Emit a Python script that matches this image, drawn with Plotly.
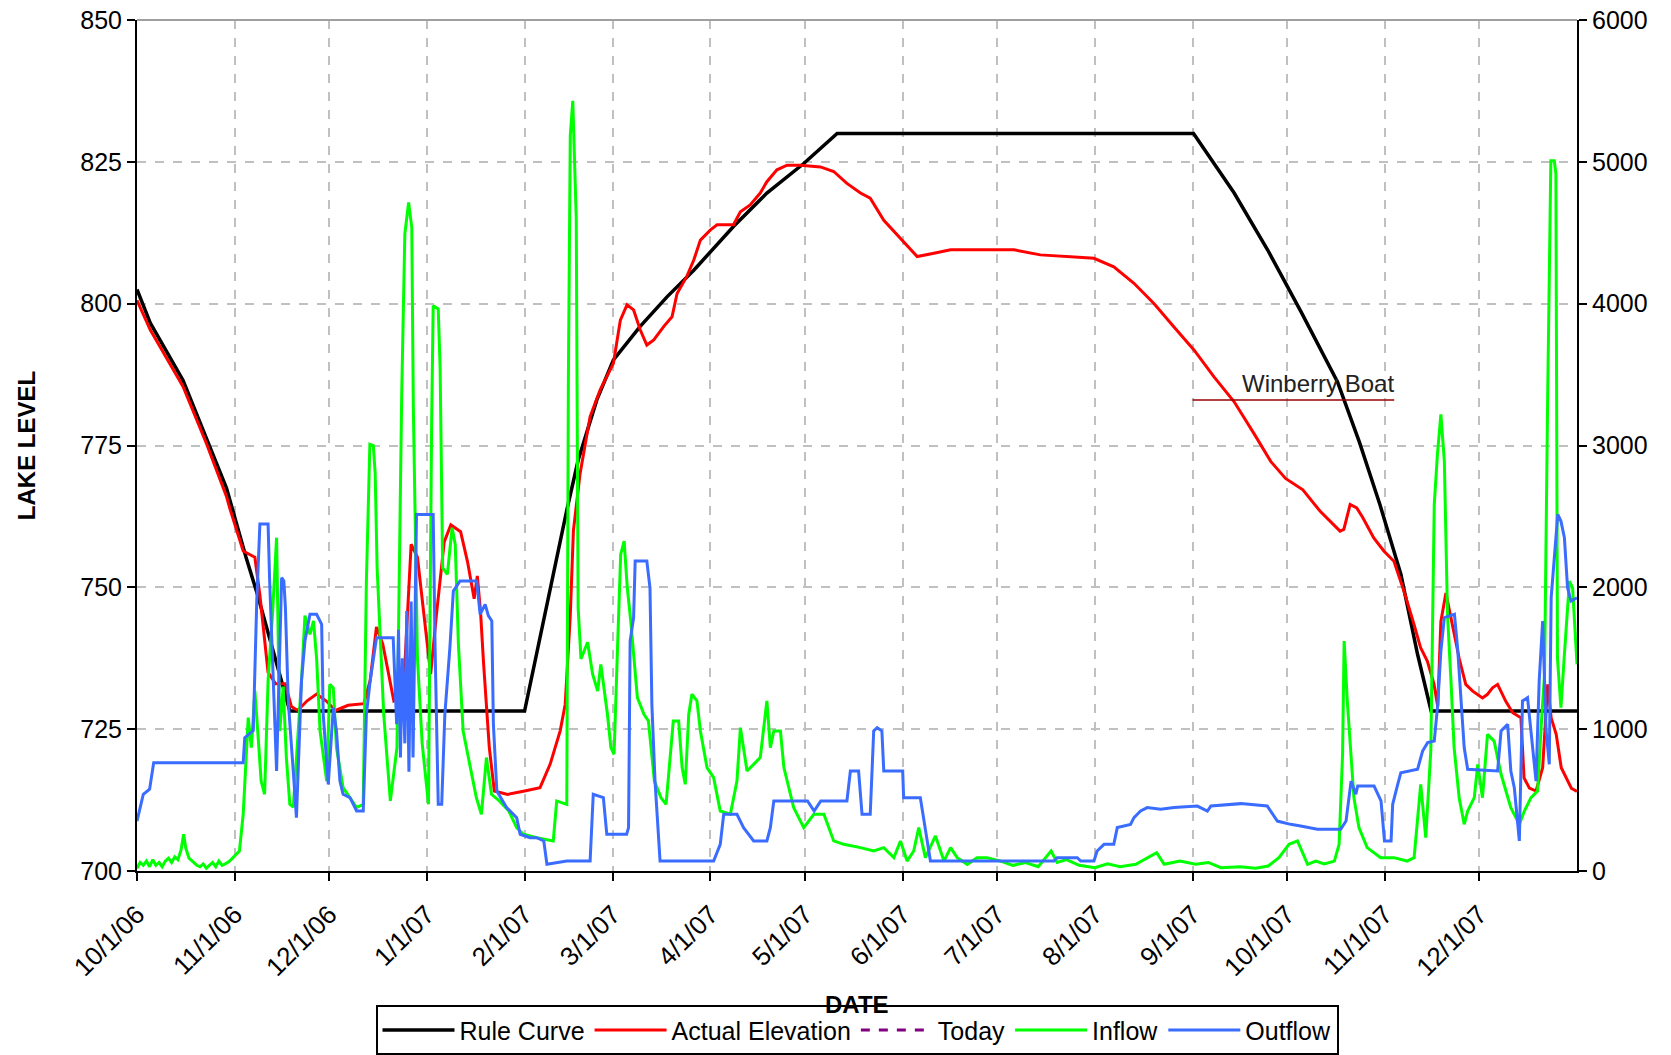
import numpy as np
import pandas as pd
import plotly.graph_objects as go

# ---------------- DATA (day offset from 10/1/06, value) ----------------
START_DATE = "2006-10-01"

RULE_CURVE = [(0, 802.5), (4.2, 796.6), (14.6, 786.5), (22, 776.5), (28.4, 767.5), (34.6, 755.3),
              (38.3, 748.6), (48.5, 728.2), (123, 728.2), (136.4, 763.6), (140, 772.4), (145.9, 783),
              (151.2, 790.1), (159.7, 796), (168.2, 801.2), (176.7, 805.9), (189.3, 813.6), (199.9, 819.5),
              (211.6, 824.7), (222.2, 830), (335.3, 830), (348.2, 819.5), (358.8, 809.5), (369.4, 798.6),
              (381, 786.2), (388, 775.5), (394.5, 764.5), (401.1, 752.3), (406.4, 738.2), (410.7, 728.2),
              (457, 728.2)]

ACTUAL_ELEVATION = [(0, 800.6), (4.2, 795.4), (14.6, 785.4), (22, 775.4), (28.4, 766), (29.4, 764), (33.7, 756.4),
                    (37.4, 755.3), (39, 748.6), (40.6, 739.8), (41.6, 735), (44, 733), (47, 733), (49, 729),
                    (51, 728.3), (54, 730), (57, 731.2), (60, 730), (63, 728.3), (67, 729.2), (72, 729.5),
                    (74, 733.6), (76, 743), (78, 740), (81.5, 730), (84.5, 731), (87, 757.6), (89, 755.3),
                    (91, 745.3), (93.2, 734.7), (95, 745), (97.5, 758), (99.6, 761), (102.7, 759.8), (104.9, 754.5),
                    (107, 748), (108, 752), (109, 745.9), (110, 736.5), (111.8, 721.8), (113.4, 714.1),
                    (117.6, 713.5), (123, 714.1), (127.9, 714.7), (131.1, 718.8), (134.3, 724.7), (135.9, 729.4),
                    (137.5, 745), (138.5, 760), (140.6, 770), (143.8, 780.1), (147, 784.8), (151.2, 789.5),
                    (153.4, 797.1), (155.5, 799.8), (157.6, 798.9), (159.7, 795.4), (161.8, 792.7), (164, 793.6),
                    (167.2, 796), (169.8, 797.7), (171.4, 801.8), (174.5, 804.8), (176.7, 807.7), (178.8, 811.2),
                    (182, 813), (184.1, 813.9), (189.3, 813.9), (191.5, 816.2), (194.6, 817.4), (197.8, 819.5),
                    (199.9, 821.5), (203.1, 823.6), (206.3, 824.4), (210.5, 824.4), (216.9, 824.1), (221.1, 823.3),
                    (225.3, 821.2), (229.6, 819.5), (232.7, 818.6), (237, 814.7), (242.3, 811.5), (247.6, 808.3),
                    (252.9, 808.9), (258.2, 809.5), (278.3, 809.5), (286.7, 808.6), (303.7, 808), (310, 806.5),
                    (316.4, 803.6), (322.8, 800), (329.1, 795.9), (335.5, 791.8), (341.8, 787.1), (348.2, 782.7),
                    (354.5, 777.1), (359.8, 772.2), (364.5, 769.2), (370, 767.2), (375.5, 763.4), (381.8, 759.9),
                    (383, 760.2), (385, 764.6), (387.1, 764), (389, 762.3), (392.5, 758.7), (395.7, 756.4),
                    (398.9, 754.6), (402.1, 749.3), (405.3, 743.4), (407.4, 739.3), (409.5, 737), (411.6, 733),
                    (412.8, 729), (413.8, 744), (415.4, 749), (417.5, 743.4), (419.6, 737.5), (421.7, 732.9),
                    (423.9, 731.7), (427, 730.5), (428.5, 731.1), (430.2, 732.3), (431.8, 732.9), (434.4, 729.9),
                    (436.6, 727.9), (439.2, 727), (440.2, 716.4), (441.9, 714.6), (444, 714.1), (446.1, 718.2),
                    (447.7, 732.9), (448.8, 727), (450.4, 724.1), (452, 718.2), (453.6, 716.4), (455.2, 714.6),
                    (457, 714)]

INFLOW = [(0, 20), (1, 60), (2, 40), (3, 70), (4, 30), (5, 80), (6, 40), (7, 60), (8, 30), (9, 70), (10, 90),
          (11, 60), (12, 100), (13, 80), (14, 150), (14.8, 260), (15.5, 160), (16.5, 90), (18, 60), (19, 40),
          (20, 30), (21, 50), (22, 20), (23, 40), (24, 60), (25, 30), (26, 70), (27, 40), (28, 50), (29.4, 70),
          (31, 110), (32.5, 140), (33.7, 400), (35.3, 1081), (36.3, 870), (37.4, 1270), (38.4, 960),
          (39.4, 634), (40.5, 541), (41.6, 1340), (43, 1810), (44.3, 2350), (45.3, 987), (46.4, 1300),
          (47.4, 800), (48.5, 470), (49.6, 450), (52.2, 1340), (53.3, 1800), (54.9, 1668), (56, 1763),
          (57, 1500), (58.1, 987), (60.2, 634), (61.2, 1316), (62.3, 1290), (63.3, 870), (65.4, 588),
          (69.7, 447), (71.8, 470), (72.8, 2044), (73.9, 3008), (75, 3000), (75.6, 2796), (76.2, 2138),
          (78.3, 1105), (80.4, 494), (82.5, 870), (84, 3350), (85, 4490), (86.2, 4713), (87.2, 4537),
          (87.7, 3267), (89, 1500), (90.5, 900), (92.5, 470), (93.5, 3150), (94, 3985), (95.6, 3963),
          (96.2, 3550), (97, 2138), (98.5, 2091), (100, 2420), (101, 2300), (102, 1600), (103.5, 987),
          (105.6, 752), (107.7, 517), (109.3, 400), (110.9, 800), (112.5, 541), (115, 494), (118, 423),
          (120.5, 306), (122.6, 259), (126.9, 235), (132.1, 212), (133.2, 494), (136.4, 470), (136.9, 3455),
          (137.5, 5183), (138.3, 5430), (139.4, 4598), (140, 1857), (140.9, 1495), (143, 1613), (144.6, 1387),
          (146.2, 1269), (147.2, 1457), (148.3, 1269), (149.3, 1105), (150.4, 870), (151.4, 823), (152.5, 1574),
          (153.5, 2232), (154.6, 2326), (155.6, 1997), (156.7, 1762), (157.7, 1495), (158.8, 1222),
          (160.9, 1105), (162.3, 1058), (164.2, 634), (166.3, 517), (167.9, 470), (169.2, 823), (170.2, 1058),
          (171.9, 1058), (173, 729), (174, 611), (175.1, 1105), (176.1, 1246), (177.7, 1199), (178.8, 987),
          (180.9, 729), (183, 658), (185.1, 423), (188.3, 400), (190.4, 634), (191.5, 1011), (193.6, 705),
          (195.7, 752), (197.8, 800), (199.9, 1199), (201, 870), (202.1, 987), (204.2, 987), (205.3, 729),
          (207.4, 541), (208.4, 447), (211.6, 306), (214.8, 400), (218, 400), (221.1, 212), (224.3, 188),
          (229.6, 165), (233.8, 141), (237, 165), (240.2, 94), (242.3, 212), (244.4, 70), (246.5, 141),
          (248.1, 306), (250.2, 94), (253.4, 247), (256.1, 70), (258.2, 165), (260.3, 94), (263.5, 47),
          (266.6, 94), (269.8, 94), (274.1, 70), (278, 40), (282, 60), (286, 30), (290.1, 141), (292, 60),
          (295, 80), (299, 40), (304, 23), (308, 50), (312, 30), (317, 47), (323.6, 129), (326, 47), (331, 70),
          (336, 47), (340, 60), (344, 23), (350, 30), (355, 20), (359, 35), (362.4, 94), (365.6, 188),
          (368.3, 212), (371.5, 47), (374.1, 70), (376.8, 50), (380, 70), (381.5, 188), (382.6, 823),
          (383.1, 1621), (384.1, 1199), (385.2, 870), (386.2, 517), (387.8, 306), (390.4, 165), (394.7, 94),
          (398.9, 94), (403.1, 70), (405.3, 94), (407.4, 611), (409, 235), (410.6, 846), (411.7, 2585),
          (412.7, 2938), (413.8, 3220), (414.9, 2890), (415.9, 1810), (417, 1340), (418, 870), (419.6, 517),
          (421.2, 329), (422.3, 423), (424.4, 517), (425.5, 752), (427, 517), (428.6, 963), (430.7, 916),
          (432.9, 682), (436, 447), (438.7, 329), (440.3, 423), (442.4, 517), (444.5, 564), (445.6, 1011),
          (446.7, 1387), (447.7, 3364), (448.7, 5007), (449.8, 5007), (450.3, 4915), (450.8, 1500),
          (451.9, 1152), (453, 1528), (454.6, 2044), (455.6, 1997), (457, 1457)]

OUTFLOW = [(0, 352), (2, 541), (4, 576), (5.3, 764), (33.7, 764), (34.2, 940), (36.9, 990), (38, 1900),
           (39, 2447), (41.6, 2447), (42.1, 2044), (44.3, 705), (45.9, 2068), (46.6, 2044), (47.1, 1857),
           (48, 1200), (49.6, 700), (50.6, 376), (52.2, 1340), (53.3, 1622), (54.9, 1810), (57, 1810),
           (58.6, 1739), (59.1, 1105), (60.7, 611), (62.3, 1152), (63.3, 987), (64.4, 634), (65.4, 541),
           (67.6, 517), (69.7, 423), (71.8, 423), (72.8, 1105), (74, 1340), (76, 1645), (81.3, 1645),
           (82.4, 1035), (83, 1700), (83.6, 800), (84.2, 1500), (85, 900), (85.6, 1833), (86.3, 700),
           (87, 1900), (87.6, 800), (88.2, 1650), (88.7, 2514), (94, 2514), (94.6, 1575), (95.6, 470),
           (96.7, 470), (97.7, 1105), (99.3, 1575), (100.4, 1974), (102.5, 2044), (107.8, 2044),
           (108.9, 1810), (110.5, 1880), (111.5, 1800), (112.6, 1763), (113.1, 1035), (114.2, 564),
           (117.3, 447), (120.5, 376), (121.6, 259), (124.7, 235), (126.9, 235), (129.1, 212), (130.1, 47),
           (136.4, 70), (143.8, 70), (144.8, 541), (148, 517), (149.1, 259), (155.4, 259), (156, 306),
           (156.5, 1621), (157.6, 1786), (158.1, 2185), (161.8, 2185), (162.8, 1997), (163.4, 1175),
           (164.4, 634), (166, 70), (183, 70), (185.1, 188), (186.2, 400), (190.4, 400), (192.5, 306),
           (195.7, 212), (199.9, 212), (201, 306), (202.1, 494), (212.8, 494), (214.9, 423), (217, 494),
           (225.3, 494), (226.4, 705), (229, 705), (230.1, 400), (232.7, 400), (233.8, 987), (234.9, 1011),
           (236.4, 987), (237, 705), (243, 705), (243.3, 517), (248.6, 517), (249.7, 352), (251.8, 70),
           (291, 70), (292, 94), (298.4, 94), (299.5, 70), (303.7, 70), (304.7, 141), (306.9, 188), (310, 188),
           (311.1, 306), (315.3, 329), (316.4, 376), (318.5, 423), (320.6, 447), (324.9, 435), (329.1, 447),
           (336.5, 458), (339.7, 423), (340.8, 458), (350.3, 475), (358.7, 458), (361.9, 352), (366.1, 329),
           (369.3, 317), (374.6, 294), (382, 294), (383.7, 352), (385.3, 634), (386.8, 541), (387.4, 599),
           (392.6, 599), (394.8, 494), (395.9, 212), (398, 212), (398.5, 470), (400.1, 611), (401.1, 693),
           (406.4, 717), (408, 846), (409.6, 905), (411.7, 916), (412.8, 1175), (413.8, 1551), (414.9, 1786),
           (418.1, 1810), (419.1, 1574), (420.2, 1222), (421.2, 870), (422.3, 717), (431.8, 705), (432.9, 987),
           (435, 1034), (436, 705), (437.1, 588), (438.7, 212), (439.7, 1199), (441.3, 1222), (442.9, 870),
           (444, 634), (445, 1340), (446.1, 1762), (447.2, 987), (448.2, 752), (448.8, 1927), (449.8, 2209),
           (450.9, 2514), (451.9, 2467), (453, 2350), (454, 1997), (455.1, 1903), (457, 1927)]

TICK_DATES = ["2006-10-01", "2006-11-01", "2006-12-01", "2007-01-01", "2007-02-01", "2007-03-01",
              "2007-04-01", "2007-05-01", "2007-06-01", "2007-07-01", "2007-08-01", "2007-09-01",
              "2007-10-01", "2007-11-01", "2007-12-01"]
TICK_LABELS = ["10/1/06", "11/1/06", "12/1/06", "1/1/07", "2/1/07", "3/1/07", "4/1/07", "5/1/07",
               "6/1/07", "7/1/07", "8/1/07", "9/1/07", "10/1/07", "11/1/07", "12/1/07"]

WINBERRY_LABEL = "Winberry Boat"
WINBERRY_LEVEL = 783
WINBERRY_START = "2007-09-01"
WINBERRY_END = "2007-11-04"

# ---------------- helpers ----------------
base = pd.Timestamp(START_DATE)


def split(pairs):
    d = np.array([p[0] for p in pairs], dtype=float)
    v = np.array([p[1] for p in pairs], dtype=float)
    return base + pd.to_timedelta(d, unit="D"), v


FONT = "Liberation Sans, Arial, sans-serif"

fig = go.Figure()
x, y = split(RULE_CURVE)
fig.add_trace(go.Scatter(x=x, y=y, name="Rule Curve", mode="lines",
                         line=dict(color="black", width=3.5)))
x, y = split(ACTUAL_ELEVATION)
fig.add_trace(go.Scatter(x=x, y=y, name="Actual Elevation", mode="lines",
                         line=dict(color="#ff0000", width=3)))
fig.add_trace(go.Scatter(x=[None], y=[None], name="Today", mode="lines",
                         line=dict(color="#800080", width=3, dash="dash")))
x, y = split(INFLOW)
fig.add_trace(go.Scatter(x=x, y=y, name="Inflow", mode="lines", yaxis="y2",
                         line=dict(color="#00ff00", width=3)))
x, y = split(OUTFLOW)
fig.add_trace(go.Scatter(x=x, y=y, name="Outflow", mode="lines", yaxis="y2",
                         line=dict(color="#3a6cff", width=3)))

grid = dict(showgrid=True, gridcolor="#c0c0c0", gridwidth=1.5, griddash="dash")
axis_common = dict(showline=True, linecolor="black", linewidth=2, ticks="outside",
                   ticklen=8, tickwidth=2, tickcolor="black", automargin=False, zeroline=False)
tickfont = dict(family=FONT, size=25, color="black")

fig.update_layout(
    width=1671, height=1055,
    margin=dict(l=137, r=94, t=20, b=184, autoexpand=False),
    paper_bgcolor="white", plot_bgcolor="white",
    font=dict(family=FONT, size=25, color="black"),
    xaxis=dict(type="date", range=["2006-10-01", "2008-01-01"],
               tickmode="array", tickvals=TICK_DATES, ticktext=TICK_LABELS,
               tickangle=-45, ticklabelstandoff=8,
               tickfont=dict(family=FONT, size=26, color="black"), **grid, **axis_common),
    yaxis=dict(range=[700, 850], tick0=700, dtick=25, tickfont=tickfont, **grid, **axis_common),
    yaxis2=dict(range=[0, 6000], tick0=0, dtick=1000, overlaying="y", side="right",
                tickfont=tickfont, showgrid=False, **axis_common),
    showlegend=True,
    legend=dict(orientation="h", x=0.5, xanchor="center", y=-0.2165, yanchor="bottom",
                bordercolor="black", borderwidth=2, bgcolor="white",
                font=dict(family=FONT, size=25, color="black"), itemwidth=72),
    shapes=[
        dict(type="line", xref="paper", yref="paper", x0=0, x1=1, y0=1, y1=1,
             line=dict(color="#a0a0a0", width=2)),
        dict(type="line", xref="x", yref="y", x0=WINBERRY_START, x1=WINBERRY_END,
             y0=WINBERRY_LEVEL, y1=WINBERRY_LEVEL, line=dict(color="#990000", width=1.5)),
    ],
    annotations=[
        dict(text=WINBERRY_LABEL, xref="x", yref="y", x="2007-09-16", y=786, xanchor="left",
             yanchor="middle", showarrow=False, font=dict(family=FONT, size=24, color="#222")),
        dict(text="<b>LAKE LEVEL</b>", xref="paper", yref="paper", x=-0.0766, y=0.5,
             xanchor="center", yanchor="middle", textangle=-90, showarrow=False,
             font=dict(family=FONT, size=24, color="black")),
        dict(text="<b>DATE</b>", xref="paper", yref="paper", x=0.5, y=-0.157,
             xanchor="center", yanchor="middle", showarrow=False,
             font=dict(family=FONT, size=24, color="black")),
    ],
)

fig.write_html("out.html")
